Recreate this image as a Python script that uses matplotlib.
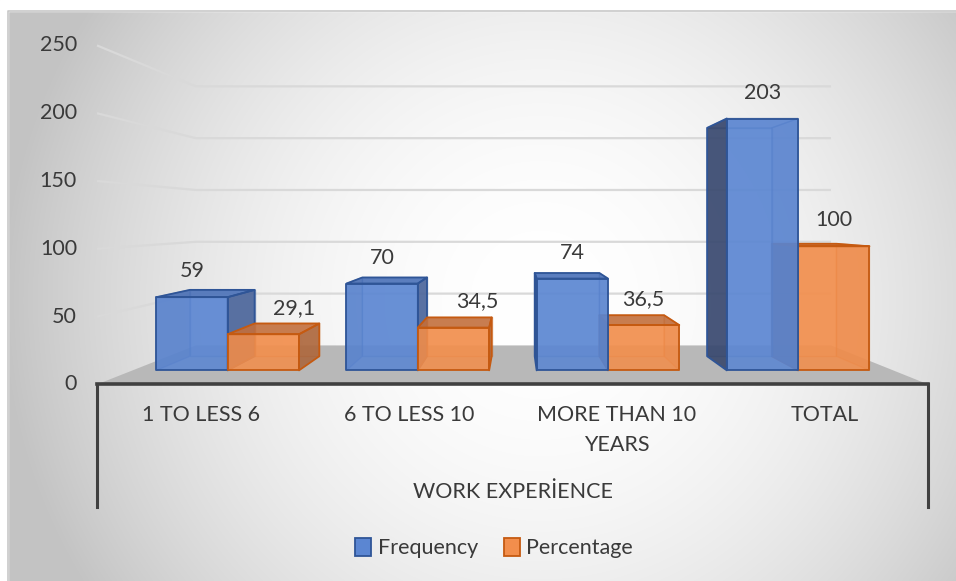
import numpy as np
import matplotlib.pyplot as plt
from matplotlib.patches import Polygon, Rectangle, Patch

categories = ['1 TO LESS 6', '6 TO LESS 10', 'MORE THAN 10\nYEARS', 'TOTAL']
frequency = [59, 70, 74, 203]
percentage = [29.1, 34.5, 36.5, 100]
frequency_text = ['59', '70', '74', '203']
percentage_text = ['29,1', '34,5', '36,5', '100']
y_ticks = [0, 50, 100, 150, 200, 250]
series_names = ['Frequency', 'Percentage']
axis_title = 'WORK EXPERİENCE'

plt.rcParams['font.family'] = ['Lato', 'DejaVu Sans']
TEXT = '#3A3A3A'
FS = 15.5

# simple perspective camera: eye level, depth planes (1/scale)
U0, V0, Z_EYE = 516, 219, 122
W_FRONT, W_BAR_FRONT, W_BAR_BACK, W_WALL = 0.7375, 0.806, 0.889, 0.965
X_LEFT, X_RIGHT = -309, 304
BAR_W = 57.5

blue = dict(front='#5B86D2', back='#6E96DD', left='#36456A', right='#4A6398',
            top='#4C72B8', edge='#2F5597')
orange = dict(front='#F28E4C', back='#F4A064', left='#8C5230', right='#AA653C',
              top='#C2703F', edge='#C55A11')


def proj(x, z, w):
    return U0 + x / w, V0 - (z - Z_EYE) / w


fig = plt.figure(figsize=(9.56, 5.81), dpi=100)
ax = fig.add_axes([0, 0, 1, 1])
ax.set_xlim(0, 956)
ax.set_ylim(581, 0)
ax.axis('off')

# radial grey background of the chart area
gx, gy = np.meshgrid(np.arange(956), np.arange(581))
d2 = ((gx - 540) / 540.0) ** 2 + ((gy - 300) / 540.0) ** 2
shade = np.clip(255 - 60 * d2, 195, 255) / 255.0
ax.imshow(np.dstack([shade] * 3), extent=(0, 956, 581, 0), zorder=0)
ax.add_patch(Rectangle((0, 0), 8, 581, color='white', zorder=0.5))
ax.add_patch(Rectangle((0, 0), 956, 11, color='white', zorder=0.5))
ax.plot([8, 8, 956], [581, 11, 11], color='#C8C8C8', lw=1.2, zorder=0.6)

# floor
floor = [proj(X_LEFT, 0, W_FRONT), proj(X_RIGHT, 0, W_FRONT),
         proj(X_RIGHT, 0, W_WALL), proj(X_LEFT, 0, W_WALL)]
ax.add_patch(Polygon(floor, closed=True, facecolor='#B8B8B8', edgecolor='none', zorder=1))

# gridlines on side wall and back wall, tick labels at the front edge
for t in y_ticks:
    p0 = proj(X_LEFT, t, W_FRONT)
    if t > 0:
        p1 = proj(X_LEFT, t, W_WALL)
        p2 = proj(X_RIGHT, t, W_WALL)
        ax.plot([p0[0], p1[0], p2[0]], [p0[1], p1[1], p2[1]], color='#D9D9D9',
                lw=1.6, zorder=1.5, solid_capstyle='butt')
    ax.text(p0[0] - 20, p0[1], str(t), ha='right', va='center', fontsize=FS, color=TEXT)


def draw_box(x0, x1, h, pal, zo):
    w1, w2 = W_BAR_FRONT, W_BAR_BACK
    faces = {
        'back': [(x0, 0, w2), (x1, 0, w2), (x1, h, w2), (x0, h, w2)],
        'left': [(x0, 0, w1), (x0, 0, w2), (x0, h, w2), (x0, h, w1)],
        'right': [(x1, 0, w1), (x1, 0, w2), (x1, h, w2), (x1, h, w1)],
        'top': [(x0, h, w1), (x1, h, w1), (x1, h, w2), (x0, h, w2)],
        'front': [(x0, 0, w1), (x1, 0, w1), (x1, h, w1), (x0, h, w1)],
    }
    visible = ['front']
    if x0 > 0:
        visible.append('left')
    if x1 < 0:
        visible.append('right')
    if h < Z_EYE:
        visible.append('top')
    hidden = [f for f in ['back', 'left', 'right', 'top'] if f not in visible]
    for f in hidden:
        pts = [proj(*p) for p in faces[f]]
        ax.add_patch(Polygon(pts, closed=True, facecolor=pal[f], alpha=0.35,
                             edgecolor='none', zorder=zo))
        ax.add_patch(Polygon(pts, closed=True, fill=False, edgecolor=pal['edge'],
                             alpha=0.45, lw=1.0, zorder=zo + 0.01))
    for f in ['left', 'right', 'top', 'front']:
        if f in visible:
            pts = [proj(*p) for p in faces[f]]
            ax.add_patch(Polygon(pts, closed=True, facecolor=pal[f], alpha=0.88,
                                 edgecolor='none', zorder=zo + 0.02))
            ax.add_patch(Polygon(pts, closed=True, fill=False, edgecolor=pal['edge'],
                                 lw=1.3, joinstyle='round', zorder=zo + 0.03))


slot = (X_RIGHT - X_LEFT) / len(categories)
centers = [X_LEFT + slot * (i + 0.5) for i in range(len(categories))]

boxes = []
for i, c in enumerate(centers):
    boxes.append((c - BAR_W, c, frequency[i], blue))
    boxes.append((c, c + BAR_W, percentage[i], orange))
# paint the bars farthest from the eye axis first
boxes.sort(key=lambda b: -abs((b[0] + b[1]) / 2))
for k, (x0, x1, h, pal) in enumerate(boxes):
    draw_box(x0, x1, h, pal, 3 + k * 0.1)

# value labels above the front-top edge
pct_nudge = [31, 24, 0, 0]
for i, c in enumerate(centers):
    u, v = proj(c - BAR_W / 2, frequency[i], W_BAR_FRONT)
    ax.text(u, v - 26, frequency_text[i], ha='center', va='center', fontsize=FS,
            color=TEXT, zorder=10)
    u, v = proj(c + BAR_W / 2, percentage[i], W_BAR_FRONT)
    ax.text(u + pct_nudge[i], v - 26, percentage_text[i], ha='center', va='center',
            fontsize=FS, color=TEXT, zorder=10)

# category axis frame
fl = proj(X_LEFT, 0, W_FRONT)
fr = proj(X_RIGHT, 0, W_FRONT)
ax.plot([fl[0], fr[0]], [fl[1], fr[1]], color='#404040', lw=2.6, zorder=5,
        solid_capstyle='projecting')
for p in (fl, fr):
    ax.plot([p[0], p[0]], [p[1], 507], color='#404040', lw=2.2, zorder=5)

for i, c in enumerate(categories):
    u = fl[0] + (fr[0] - fl[0]) * (i + 0.5) / len(categories)
    ax.text(u, 405, c, ha='center', va='top', fontsize=FS, color=TEXT, linespacing=1.6)

ax.text((fl[0] + fr[0]) / 2, 492, axis_title, ha='center', va='center', fontsize=FS, color=TEXT)

handles = [Patch(facecolor=blue['front'], edgecolor=blue['edge'], lw=1.3),
           Patch(facecolor=orange['front'], edgecolor=orange['edge'], lw=1.3)]
fig.legend(handles, series_names, loc='center', bbox_to_anchor=(494 / 956, 1 - 548 / 581),
           ncol=2, frameon=False, fontsize=FS, handlelength=0.75, handleheight=0.9,
           handletextpad=0.3, columnspacing=1.2, labelcolor=TEXT)

fig.savefig('out.png', dpi=100)
